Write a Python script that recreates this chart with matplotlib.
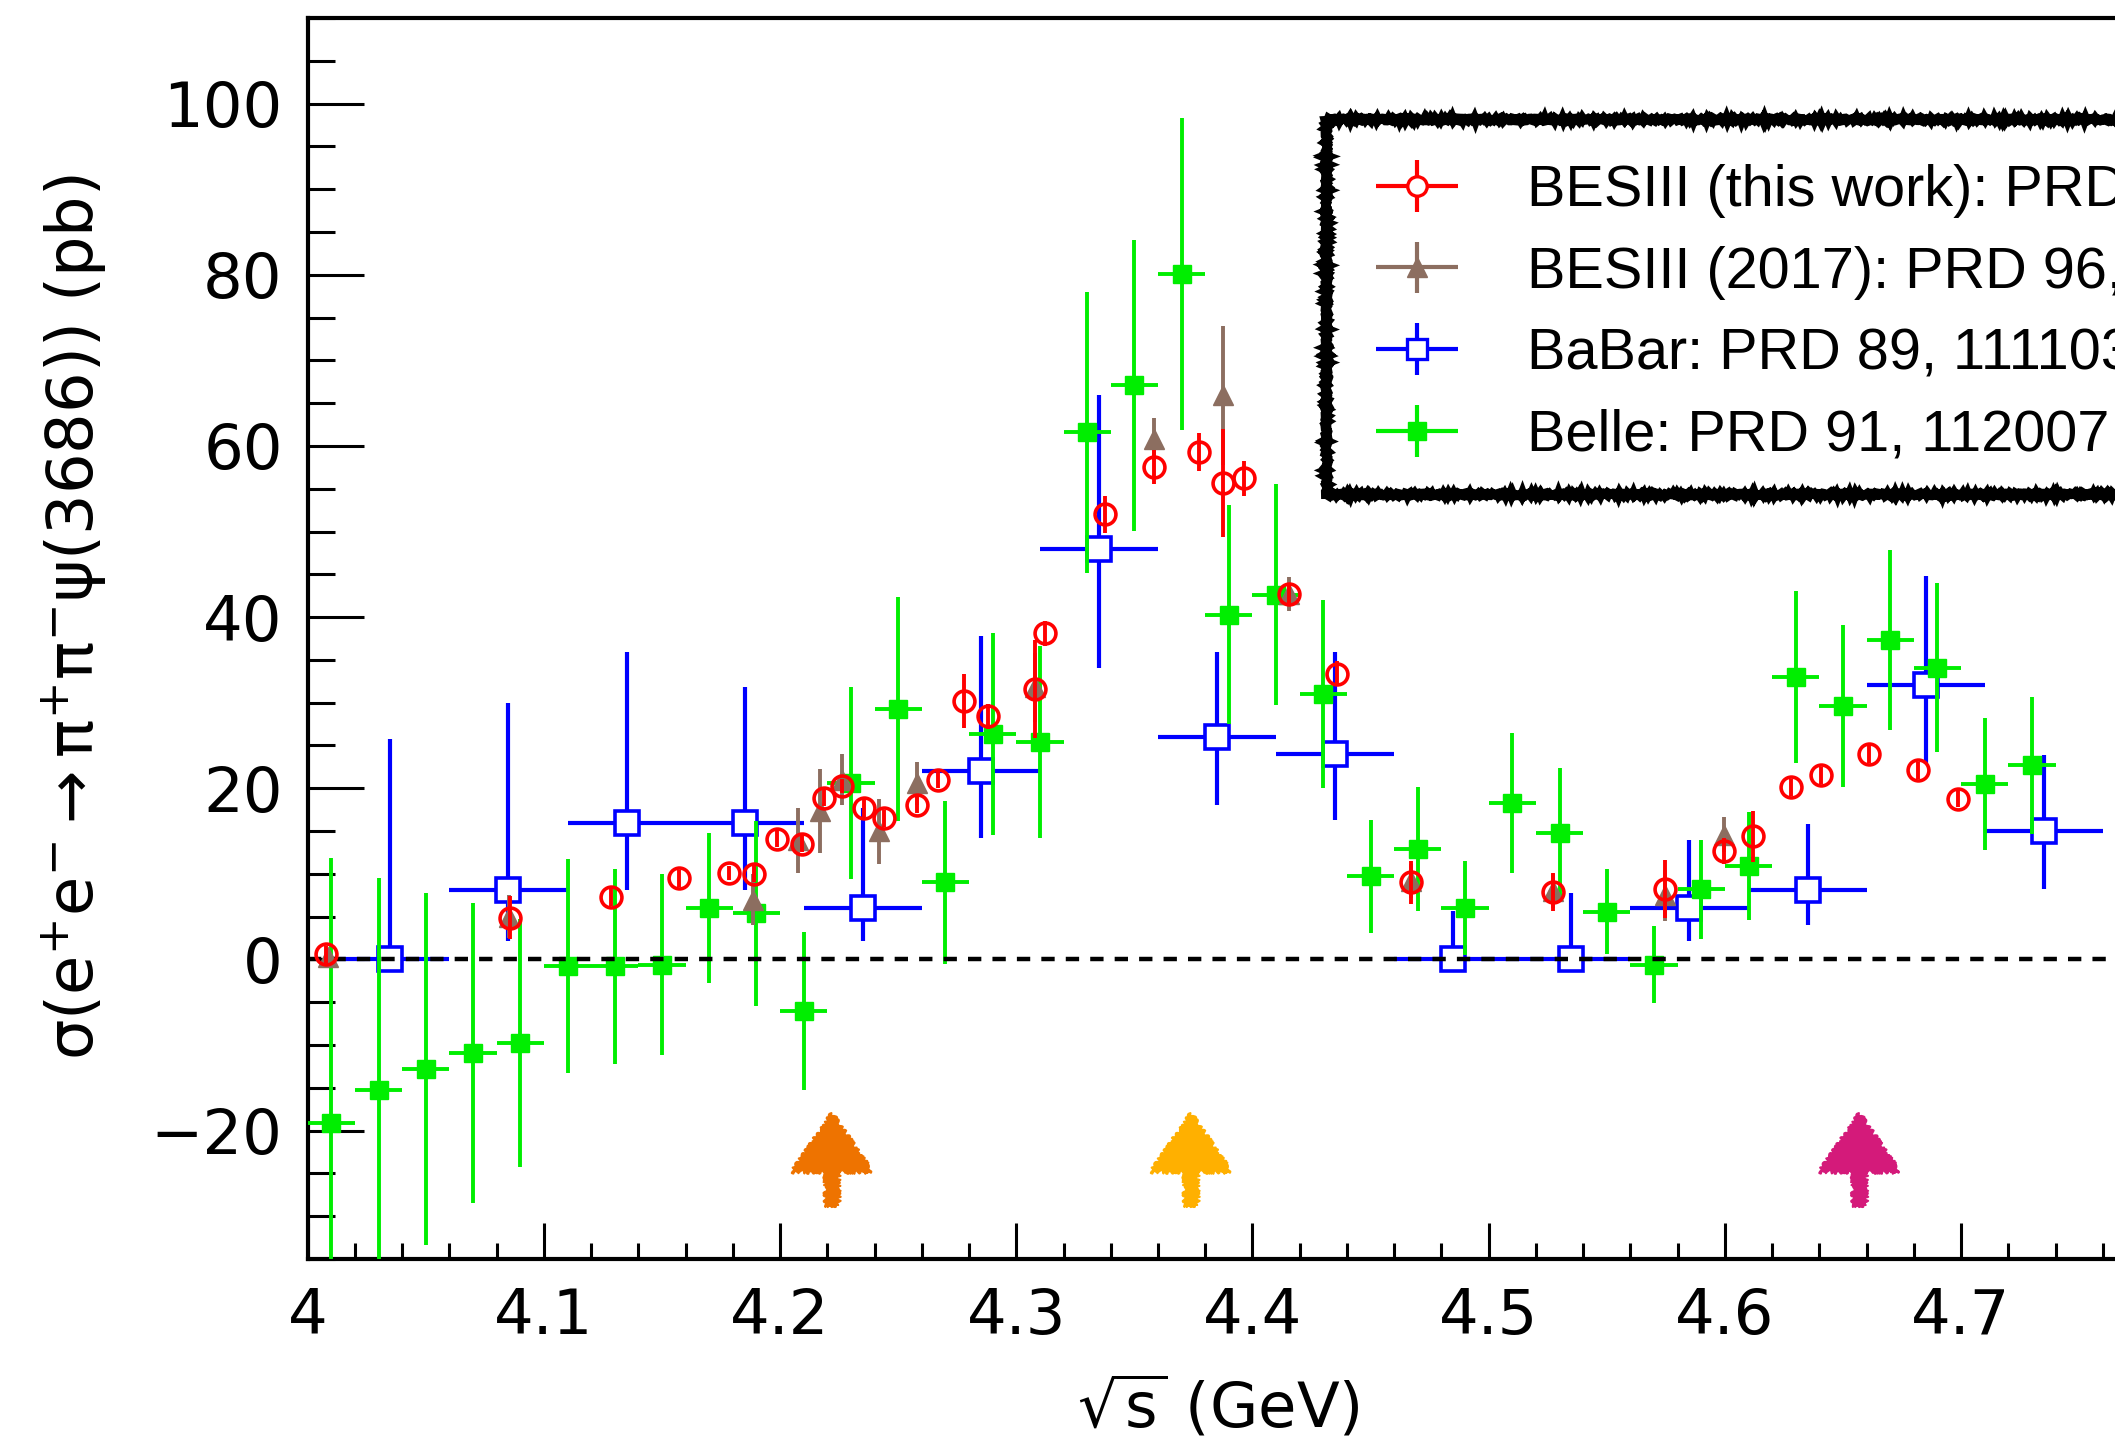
import numpy as np
import matplotlib
matplotlib.use("Agg")
import matplotlib.pyplot as plt
from matplotlib.ticker import MultipleLocator
from matplotlib.legend_handler import HandlerErrorbar
from matplotlib.container import ErrorbarContainer
from matplotlib.font_manager import FontProperties
from matplotlib.patches import Rectangle

# ---------------- data ----------------
# BESIII (this work)
bes_E = [4.0076, 4.0855, 4.1285, 4.1574, 4.1784, 4.1888, 4.1989, 4.2092, 4.2187, 4.2263,
         4.2357, 4.2438, 4.2580, 4.2668, 4.2777, 4.2879, 4.3079, 4.3121, 4.3374, 4.3583,
         4.3774, 4.3874, 4.3964, 4.4156, 4.4359, 4.4671, 4.5271, 4.5745, 4.5995, 4.6119,
         4.6280, 4.6409, 4.6612, 4.6819, 4.6988]
bes_sig = [0.6, 4.9, 7.3, 9.5, 10.1, 10.0, 14.1, 13.5, 18.9, 20.3,
           17.7, 16.5, 18.1, 21.0, 30.2, 28.4, 31.6, 38.1, 52.0, 57.5,
           59.3, 55.7, 56.2, 42.7, 33.4, 9.0, 7.9, 8.2, 12.7, 14.4,
           20.1, 21.5, 24.0, 22.1, 18.8]
bes_err = [1.0, 2.5, 1.0, 1.0, 0.8, 1.0, 1.0, 1.0, 1.0, 0.8,
           1.0, 1.0, 1.0, 1.0, 3.1, 1.5, 5.7, 1.5, 2.2, 2.0,
           2.2, 6.3, 2.0, 1.0, 1.5, 2.5, 2.2, 3.4, 1.5, 3.0,
           1.0, 1.0, 1.0, 1.0, 1.0]

# BESIII (2017)
b17_E = [4.0085, 4.0854, 4.1886, 4.2077, 4.2171, 4.2263, 4.2417, 4.2580,
         4.3079, 4.3583, 4.3874, 4.4156, 4.4671, 4.5271, 4.5745, 4.5995]
b17_sig = [0.3, 5.0, 7.0, 13.9, 17.3, 21.0, 15.0, 20.6,
           31.8, 60.8, 65.9, 42.7, 9.2, 8.0, 7.5, 14.6]
b17_err = [1.0, 2.5, 3.0, 3.8, 4.9, 3.0, 3.8, 2.5,
           4.0, 2.5, 8.1, 2.0, 2.0, 2.0, 3.0, 2.0]

# BaBar
babar_E = [4.035, 4.085, 4.135, 4.185, 4.235, 4.285, 4.335, 4.385,
           4.435, 4.485, 4.535, 4.585, 4.635, 4.685, 4.735]
babar_sig = [0.0, 8.1, 16.0, 16.0, 6.0, 22.0, 47.9, 26.0,
             24.0, 0.0, 0.0, 6.0, 8.1, 32.1, 15.0]
babar_up = [25.8, 21.9, 19.9, 15.8, 11.7, 15.8, 18.0, 9.9,
            11.9, 5.7, 7.8, 8.0, 7.7, 12.7, 8.9]
babar_lo = [0.0, 5.9, 7.9, 7.9, 3.8, 7.8, 13.9, 7.9,
            7.7, 0.0, 0.0, 3.9, 4.1, 9.3, 6.8]
babar_halfbin = 0.025

# Belle
belle_E = [4.01, 4.03, 4.05, 4.07, 4.09, 4.11, 4.13, 4.15, 4.17, 4.19,
           4.21, 4.23, 4.25, 4.27, 4.29, 4.31, 4.33, 4.35, 4.37, 4.39,
           4.41, 4.43, 4.45, 4.47, 4.49, 4.51, 4.53, 4.55, 4.57, 4.59,
           4.61, 4.63, 4.65, 4.67, 4.69, 4.71, 4.73]
belle_sig = [-19.1, -15.3, -12.8, -10.9, -9.8, -0.8, -0.8, -0.6, 6.0, 5.4,
             -6.0, 20.6, 29.3, 9.0, 26.4, 25.4, 61.6, 67.1, 80.1, 40.3,
             42.6, 31.0, 9.7, 12.9, 6.0, 18.3, 14.8, 5.6, -0.6, 8.2,
             10.9, 33.0, 29.6, 37.3, 34.1, 20.5, 22.7]
belle_err = [31.0, 24.8, 20.6, 17.5, 14.5, 12.5, 11.4, 10.6, 8.8, 10.8,
             9.2, 11.2, 13.1, 9.5, 11.8, 11.2, 16.4, 17.0, 18.2, 12.8,
             12.9, 11.0, 6.6, 7.2, 5.5, 8.2, 7.6, 5.0, 4.5, 5.8,
             6.3, 10.0, 9.5, 10.5, 9.9, 7.7, 8.0]
belle_halfbin = 0.01

# annotation arrows
arrow_E = [4.222, 4.374, 4.657]
arrow_colors = ["#EE7300", "#FFB000", "#D41A7A"]
arrow_tip = -18.0
arrow_tail = -28.7

legend_labels = ["BESIII (this work): PRD 104, 052012 (2021)",
                 "BESIII (2017): PRD 96, 032004 (2017)",
                 "BaBar: PRD 89, 111103 (2014)",
                 "Belle: PRD 91, 112007 (2015)"]

xtick_vals = [4.0, 4.1, 4.2, 4.3, 4.4, 4.5, 4.6, 4.7]
xtick_labels = ["4", "4.1", "4.2", "4.3", "4.4", "4.5", "4.6", "4.7"]
ytick_vals = [-20, 0, 20, 40, 60, 80, 100]

# ---------------- style ----------------
RED = "#ff0000"
BROWN = "#8c6e60"
BLUE = "#0000ff"
GREEN = "#00ee00"

plt.rcParams["font.family"] = ["DejaVu Sans"]
plt.rcParams["mathtext.default"] = "regular"

fig = plt.figure(figsize=(21.15, 14.49), dpi=100)
ax = fig.add_axes([0.14548, 0.13112, 0.89343, 0.85645])
ax.set_xlim(4.0, 4.8)
ax.set_ylim(-35, 110)

ax.axhline(0, color="black", lw=3.2, ls=(0, (3, 2.5)), zorder=4)

ax.errorbar(babar_E, babar_sig, xerr=babar_halfbin, yerr=[babar_lo, babar_up],
            fmt="s", ms=17, mfc="white", mec=BLUE, mew=2.6, ecolor=BLUE,
            elinewidth=3.0, capsize=0, zorder=2)
ax.errorbar(belle_E, belle_sig, xerr=belle_halfbin, yerr=belle_err,
            fmt="s", ms=13.5, mfc=GREEN, mec=GREEN, mew=1, ecolor=GREEN,
            elinewidth=2.8, capsize=0, zorder=3)
ax.errorbar(b17_E, b17_sig, yerr=b17_err,
            fmt="^", ms=15, mfc=BROWN, mec=BROWN, mew=1, ecolor=BROWN,
            elinewidth=2.8, capsize=0, zorder=5)
ax.errorbar(bes_E, bes_sig, yerr=bes_err,
            fmt="o", ms=15, mfc="none", mec=RED, mew=2.6, ecolor=RED,
            elinewidth=2.8, capsize=0, zorder=6)

# arrows
for E, c in zip(arrow_E, arrow_colors):
    ann = ax.annotate("", xy=(E, arrow_tip), xytext=(E, arrow_tail),
                      arrowprops=dict(arrowstyle="simple,head_length=1.05,head_width=1.45,tail_width=0.24",
                                      mutation_scale=40, fc=c, ec=c, lw=1.5,
                                      shrinkA=0, shrinkB=0), zorder=7)
    ann.arrow_patch.set_sketch_params(2.0, 5, 4)

# axes styling
ax.set_xticks(xtick_vals)
ax.set_xticklabels(xtick_labels)
ax.set_yticks(ytick_vals)
ax.xaxis.set_minor_locator(MultipleLocator(0.02))
ax.yaxis.set_minor_locator(MultipleLocator(5))
ax.tick_params(axis="both", which="both", direction="in", top=False, right=False, colors="black")
ax.tick_params(axis="y", which="major", length=40, width=2.2, pad=18, labelsize=45)
ax.tick_params(axis="y", which="minor", length=19.5, width=2.2)
ax.tick_params(axis="x", which="major", length=26, width=2.2, pad=20, labelsize=45)
ax.tick_params(axis="x", which="minor", length=11.5, width=2.2)
for s in ax.spines.values():
    s.set_linewidth(3.0)

ax.set_ylabel(r"$\sigma(e^{+}e^{-}\rightarrow\pi^{+}\pi^{-}\psi(3686))$ (pb)", fontsize=46)
ax.yaxis.set_label_coords(-0.1237, 0.517)
ax.yaxis.label.set_horizontalalignment("center")
ax.yaxis.label.set_verticalalignment("center")
ax.set_xlabel(r"$\sqrt{s}$ (GeV)", fontsize=45)
ax.xaxis.set_label_coords(0.4817, -0.119)
ax.xaxis.label.set_verticalalignment("center")

# hand-drawn legend frame
legend_box = Rectangle((0.5389, 0.6167), 0.55, 0.9189 - 0.6167, transform=ax.transAxes,
                       fc="white", ec="black", lw=6.5, zorder=9, clip_on=False)
legend_box.set_sketch_params(1.4, 4, 3)
ax.add_patch(legend_box)

# legend proxies
h1 = ax.errorbar([np.nan], [np.nan], xerr=[1], yerr=[1], fmt="o", ms=14, mfc="white",
                 mec=RED, mew=2.4, ecolor=RED, elinewidth=3.0, capsize=0)
h2 = ax.errorbar([np.nan], [np.nan], xerr=[1], yerr=[1], fmt="^", ms=14, mfc=BROWN,
                 mec=BROWN, mew=1, ecolor=BROWN, elinewidth=3.0, capsize=0)
h3 = ax.errorbar([np.nan], [np.nan], xerr=[1], yerr=[1], fmt="s", ms=15, mfc="white",
                 mec=BLUE, mew=2.4, ecolor=BLUE, elinewidth=3.0, capsize=0)
h4 = ax.errorbar([np.nan], [np.nan], xerr=[1], yerr=[1], fmt="s", ms=13, mfc=GREEN,
                 mec=GREEN, mew=1, ecolor=GREEN, elinewidth=3.0, capsize=0)

leg = ax.legend([h1, h2, h3, h4], legend_labels, loc="upper left",
                bbox_to_anchor=(0.5416, 0.9186), bbox_transform=ax.transAxes,
                borderaxespad=0, prop=FontProperties(family="Liberation Sans", size=41.5),
                handlelength=1.42, handletextpad=1.2, borderpad=0.78, labelspacing=0.48,
                frameon=False,
                handler_map={ErrorbarContainer: HandlerErrorbar(xerr_size=0.71, yerr_size=0.45)})
leg.set_zorder(10)

fig.savefig("out.png", dpi=100, facecolor="white")
